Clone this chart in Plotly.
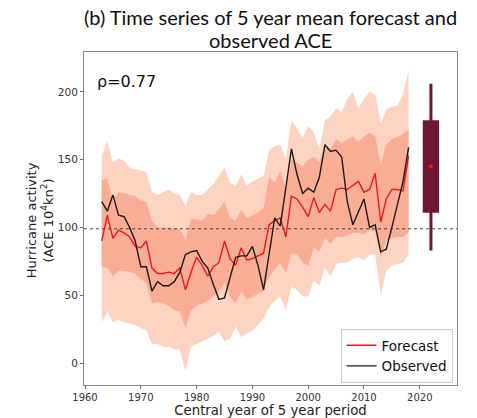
import plotly.graph_objects as go

years = list(range(1963, 2019))

forecast = [90, 109, 92, 98, 96, 93, 86, 85, 90, 70,
            66, 66, 67, 66, 70, 54, 67, 78, 72, 64,
            71, 74, 90, 77, 72, 85, 76, 77, 79, 81,
            102, 105, 107, 93, 123, 121, 115, 108, 122, 111,
            117, 112, 128, 129, 128, 131, 134, 126, 128, 140,
            104, 121, 128, 128, 127, 153]

observed = [119, 112, 124, 109, 108, 100, 90, 71, 71, 53,
            60, 57, 57, 60, 67, 80, 82, 83, 75, 70,
            58, 47, 48, 63, 78, 79, 79, 86, 72, 54,
            80, 107, 101, 130, 158, 139, 125, 129, 126, 137,
            161, 156, 157, 152, 119, 102, 112, 121, 100, 102,
            82, 84, 100, 118, 134, 159]

outer_top = [152, 164, 148, 151, 149, 144, 143, 142, 141, 126,
             124, 126, 128, 125, 124, 116, 126, 124, 124, 128,
             132, 138, 144, 133, 131, 139, 131, 134, 136, 138,
             157, 160, 161, 150, 179, 173, 166, 175, 170, 158,
             179, 182, 188, 185, 195, 200, 188, 195, 200, 198,
             177, 187, 189, 190, 198, 216]

inner_top = [135, 136, 120, 126, 125, 124, 123, 120, 119, 105,
             100, 100, 100, 99, 99, 91, 106, 106, 105, 110,
             109, 113, 119, 107, 105, 113, 107, 109, 111, 114,
             137, 133, 142, 128, 150, 148, 145, 150, 152, 148,
             160, 158, 165, 162, 165, 167, 163, 167, 170, 167,
             147, 161, 165, 167, 169, 172]

inner_bot = [71, 70, 64, 68, 68, 67, 66, 62, 59, 44,
             45, 44, 42, 39, 38, 26, 39, 42, 44, 46,
             49, 52, 59, 49, 44, 53, 47, 49, 51, 53,
             64, 69, 74, 66, 81, 80, 74, 72, 85, 82,
             92, 88, 93, 93, 94, 96, 96, 95, 98, 97,
             78, 90, 92, 93, 93, 96]

outer_bot = [30, 38, 30, 32, 30, 29, 28, 26, 24, 14,
             14, 12, 12, 10, 10, -6, 12, 14, 16, 18,
             20, 23, 16, 18, 27, 19, 22, 24, 28, 33,
             41, 46, 49, 39, 56, 54, 49, 49, 61, 57,
             70, 64, 73, 74, 74, 77, 78, 76, 80, 80,
             50, 68, 72, 73, 74, 80]

box_year = [2022]
box_stats = dict(lowerfence=[83], q1=[112], median=[145], q3=[178], upperfence=[206])
box_mean = [145]
ref_level = 99

x_ticks = [1960, 1970, 1980, 1990, 2000, 2010, 2020]
y_ticks = [0, 50, 100, 150, 200]

title_lines = ['(b) Time series of 5 year mean forecast and', 'observed ACE']

OUTER = '#fdd3c2'
INNER = '#f9ad94'
RED = '#e5191e'
BLACK = '#1a1a1a'
MAROON = '#6e1732'

fig = go.Figure()

fig.add_trace(go.Scatter(x=years, y=outer_top, mode='lines', line=dict(width=0),
                         showlegend=False, hoverinfo='skip'))
fig.add_trace(go.Scatter(x=years, y=outer_bot, mode='lines', line=dict(width=0),
                         fill='tonexty', fillcolor=OUTER, showlegend=False, hoverinfo='skip'))
fig.add_trace(go.Scatter(x=years, y=inner_top, mode='lines', line=dict(width=0),
                         showlegend=False, hoverinfo='skip'))
fig.add_trace(go.Scatter(x=years, y=inner_bot, mode='lines', line=dict(width=0),
                         fill='tonexty', fillcolor=INNER, showlegend=False, hoverinfo='skip'))

fig.add_hline(y=ref_level, line=dict(color='#444444', width=1, dash='dot'))

fig.add_trace(go.Scatter(x=years, y=forecast, mode='lines', name='Forecast',
                         line=dict(color=RED, width=1.4)))
fig.add_trace(go.Scatter(x=years, y=observed, mode='lines', name='Observed',
                         line=dict(color=BLACK, width=1.4)))

fig.add_trace(go.Box(x=box_year, q1=box_stats['q1'], median=box_stats['median'],
                     q3=box_stats['q3'], lowerfence=box_stats['lowerfence'],
                     upperfence=box_stats['upperfence'], width=2.4,
                     fillcolor=MAROON, line=dict(color=MAROON, width=3),
                     whiskerwidth=0, showlegend=False, boxpoints=False, hoverinfo='skip'))
fig.add_trace(go.Scatter(x=box_year, y=box_mean, mode='markers',
                         marker=dict(color='#ff1010', size=4), showlegend=False))

fig.add_annotation(x=0.03, y=0.912, xref='paper', yref='paper', text='ρ=0.77',
                   showarrow=False, xanchor='left', yanchor='middle',
                   font=dict(family='DejaVu Sans', size=16, color='#111111'))

# title, two lines
fig.add_annotation(x=0.5, y=1.105, xref='paper', yref='paper', text=title_lines[0],
                   showarrow=False, xanchor='center', yanchor='middle',
                   font=dict(family='Lato', size=20, color='#111111'))
fig.add_annotation(x=0.5, y=1.036, xref='paper', yref='paper', text=title_lines[1],
                   showarrow=False, xanchor='center', yanchor='middle',
                   font=dict(family='Lato', size=20, color='#111111'))

# y axis title
fig.add_annotation(x=-0.118, y=0.495, xref='paper', yref='paper',
                   text='Hurricane activity<br>(ACE 10<sup>4</sup>kn<sup>2</sup>)',
                   textangle=-90, showarrow=False, xanchor='center', yanchor='middle',
                   font=dict(family='DejaVu Sans', size=13, color='#222222'))

fig.update_layout(
    width=477, height=418,
    margin=dict(l=84, r=20, t=52, b=33),
    paper_bgcolor='white', plot_bgcolor='white',
    font=dict(family='DejaVu Sans', color='#333333'),
    legend=dict(x=0.988, y=0.006, xanchor='right', yanchor='bottom', traceorder='normal',
                bgcolor='white', bordercolor='#cccccc', borderwidth=1,
                font=dict(family='DejaVu Sans', size=13.5, color='#111111')),
    showlegend=True,
)

fig.update_xaxes(range=[1959.82, 2026.67], tickvals=x_ticks, showgrid=False, zeroline=False,
                 automargin=False,
                 showline=True, mirror=True, linecolor='#888888', linewidth=1,
                 ticks='outside', ticklen=3, tickcolor='#666666',
                 tickfont=dict(size=10, color='#333333'),
                 title=dict(text='Central year of 5 year period', standoff=2,
                            font=dict(size=13.3, color='#222222')))
fig.update_yaxes(range=[-16.2, 229.4], tickvals=y_ticks, showgrid=False, zeroline=False,
                 automargin=False,
                 showline=True, mirror=True, linecolor='#888888', linewidth=1,
                 ticks='outside', ticklen=3, tickcolor='#666666',
                 tickfont=dict(size=10.5, color='#333333'))

fig.write_html('out.html')
